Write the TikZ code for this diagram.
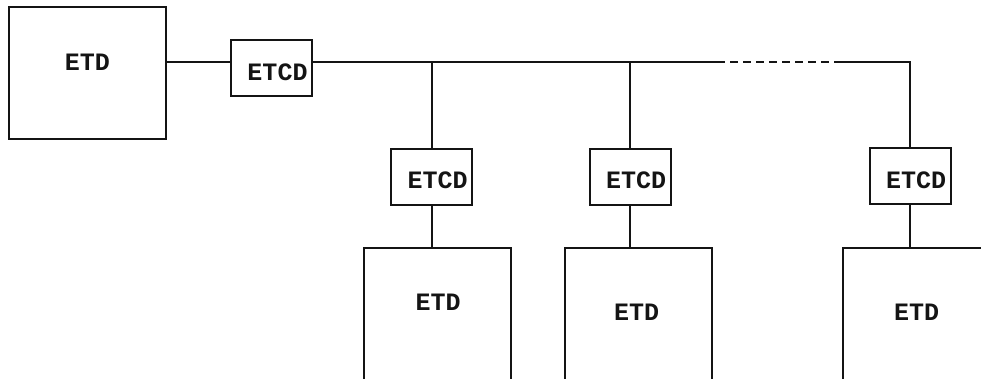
\documentclass[tikz,border=0pt]{standalone}
\usepackage{fontspec}
\setmonofont{Liberation Mono}
\usetikzlibrary{positioning,calc}
\definecolor{ink}{RGB}{20,20,20}
\tikzset{
  box/.style={draw=ink,line width=2pt,inner sep=0pt},
  etd/.style={box,minimum width=147pt,minimum height=200pt},
  etcd/.style={box,minimum width=81pt,minimum height=56pt},
  tag/.style={font=\ttfamily\bfseries\fontsize{25}{25}\selectfont,text=ink,inner sep=0pt},
  wire/.style={draw=ink,line width=2pt},
  gapline/.style={wire,dash pattern=on 8pt off 5pt},
}

\begin{document}
\begin{tikzpicture}[x=1pt,y=-1pt]
  \useasboundingbox (0,0) rectangle (981,378);
  \clip (0,0) rectangle (981,378);
  % main station
  \node[box,minimum width=157pt,minimum height=132pt,
    label={[tag,yshift=11pt]center:ETD}] (host) at (87.5,73) {};
  \node[etcd,label={[tag,xshift=6pt,yshift=-4pt]center:ETCD}] (link0) at (271.5,68) {};
  % tributary modems
  \node[etcd,label={[tag,xshift=6pt,yshift=-3pt]center:ETCD}] (link1) at (431.5,177) {};
  \node[etcd,label={[tag,xshift=6pt,yshift=-3pt]center:ETCD}] (link2) at (630,177) {};
  \node[etcd,label={[tag,xshift=6pt,yshift=-4pt]center:ETCD}] (link3) at (910,176) {};
  % tributary stations (cut at the bottom)
  \node[etd,label={[tag,xshift=1pt,yshift=46pt]center:ETD}] (term1) at (437,348) {};
  \node[etd,label={[tag,xshift=-2pt,yshift=36pt]center:ETD}] (term2) at (638.5,348) {};
  \node[etd,label={[tag,yshift=36pt]center:ETD}] (term3) at (916.5,348) {};
  % line
  \coordinate (bus) at (0,61.5);
  \coordinate (gapL) at (717,61.5);
  \coordinate (gapR) at (837,61.5);
  \draw[wire] (host.east |- bus) -- (link0.west |- bus);
  \draw[wire] (link0.east |- bus) -- (gapL);
  \draw[gapline] (gapL) -- (gapR);
  \draw[wire] (gapR) -- (link3.north |- bus) -- (link3.north);
  \draw[wire] (link1.north |- bus) -- (link1.north);
  \draw[wire] (link2.north |- bus) -- (link2.north);
  \draw[wire] (link1.south) -- (link1.south |- term1.north);
  \draw[wire] (link2.south) -- (link2.south |- term2.north);
  \draw[wire] (link3.south) -- (link3.south |- term3.north);
\end{tikzpicture}
\end{document}
